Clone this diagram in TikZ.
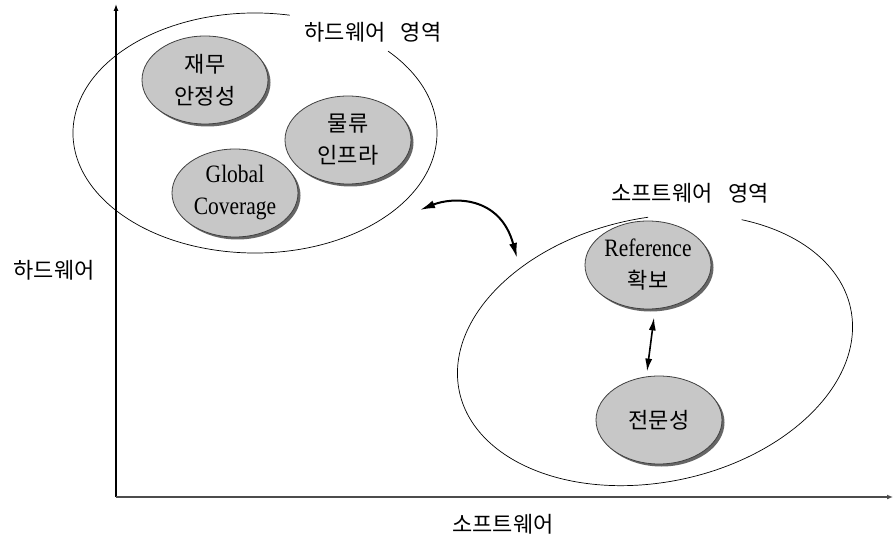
\documentclass[tikz,border=0pt]{standalone}
\usepackage{fontspec}
\newfontfamily\kr{Noto Sans CJK KR}
\newfontfamily\lt[FakeStretch=0.86]{Liberation Serif}
\usetikzlibrary{shapes.geometric,arrows.meta,shadows}
\begin{document}
\begin{tikzpicture}[x=1pt,y=1pt,
  blob/.style={ellipse, draw=black!75, line width=0.8pt, fill=black!22,
    minimum width=126pt, minimum height=88pt, inner sep=0pt, align=center,
    font=\kr\fontsize{22}{32}\selectfont,
    drop shadow={shadow xshift=2.5pt, shadow yshift=-2.5pt, fill=black!60, opacity=1}},
  lbl/.style={font=\kr\fontsize{22}{26}\selectfont, inner sep=1pt},
  big/.style={line width=0.7pt},
  link/.style={line width=2pt, {Latex[length=15pt,width=8pt]}-{Latex[length=15pt,width=8pt]}}
]
\useasboundingbox (0,0) rectangle (894,-537);
% axes
\coordinate (o) at (116,-497);
\coordinate (ytop) at (116,-4);
\coordinate (xend) at (893,-497);
\draw[line width=1.3pt, -{Latex[length=7pt,width=5pt]}] (o) -- (ytop);
\draw[line width=1.4pt, black!70, -{Latex[length=6pt,width=5pt]}] (o) -- (xend);
% big region ellipses
\draw[big] (255,-133) ++(79:182 and 120) arc[start angle=79, end angle=403, x radius=182, y radius=120];
\draw[big, shift={(655,-350)}, rotate=12] (84:200 and 132) arc[start angle=84, end angle=416, x radius=200, y radius=132];
% labels
\node[lbl] (hwarea) at (373,-32) {하드웨어\hspace{0.7em}영역};
\node[lbl] (swarea) at (690,-193) {소프트웨어\hspace{0.7em}영역};
\node[lbl] (hw) at (54,-270) {하드웨어};
\node[lbl] (sw) at (503,-524) {소프트웨어};
% inner blobs
\node[blob] (fin) at (205,-80) {재무\\안정성};
\node[blob] (log) at (348,-140) {물류\\인프라};
\node[blob, font=\lt\fontsize{25}{32}\selectfont] (gc) at (235,-193) {Global\\Coverage};
\node[blob] (ref) at (648,-265) {{\lt\fontsize{25}{32}\selectfont Reference}\\확보};
\node[blob] (exp) at (659,-420) {전문성};
% connectors
\coordinate (c1) at (420,-210);
\coordinate (c2) at (517,-258);
\draw[link] (c1) .. controls (452,-197) and (500,-195) .. (c2);
\draw[line width=1.6pt, {Latex[length=13pt,width=7pt]}-{Latex[length=13pt,width=7pt]}]
  ([shift={(6,-8)}]ref.south) -- ([shift={(-12,4)}]exp.north);
\end{tikzpicture}
\end{document}
